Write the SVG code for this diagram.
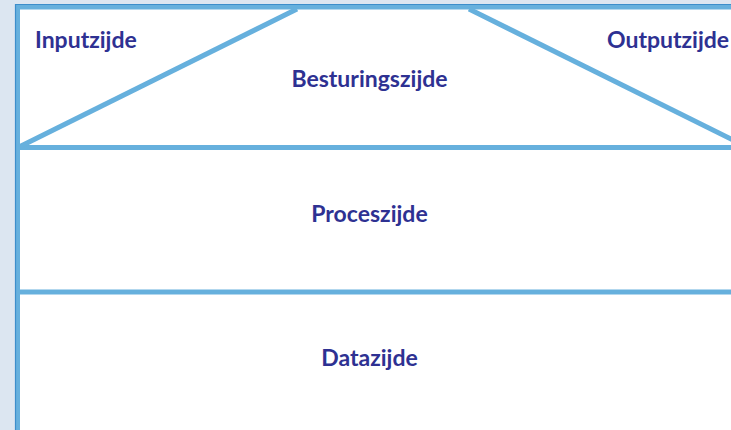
<svg xmlns="http://www.w3.org/2000/svg" width="731" height="430" viewBox="0 0 731 430">
<style>
.lbl{font-family:Lato,"Liberation Sans",sans-serif;font-weight:bold;font-size:23px;fill:#2e3192}
.ln{stroke:#66b0dd;stroke-width:5;fill:none}
</style>
<rect x="0" y="0" width="731" height="430" fill="#dce6f1"/>
<g id="frame">
<rect x="17.5" y="7" width="730" height="440" fill="#ffffff" stroke="#66b0dd" stroke-width="5"/>
<path d="M15.5 430 V4.5 H731" fill="none" stroke="#3d8ecb" stroke-width="1.2"/>
</g>
<g id="connectors">
<line class="ln" x1="19" y1="147.5" x2="731" y2="147.5"/>
<line class="ln" x1="19" y1="292" x2="731" y2="292"/>
<line class="ln" x1="19" y1="147" x2="297" y2="9"/>
<line class="ln" x1="469" y1="9" x2="745" y2="146"/>
</g>
<g id="inputzijde"><text class="lbl" x="35" y="48">Inputzijde</text></g>
<g id="besturingszijde"><text class="lbl" x="369.5" y="87" text-anchor="middle">Besturingszijde</text></g>
<g id="outputzijde"><text class="lbl" x="607" y="48">Outputzijde</text></g>
<g id="proceszijde"><text class="lbl" x="369.5" y="222" text-anchor="middle">Proceszijde</text></g>
<g id="datazijde"><text class="lbl" x="369.5" y="366" text-anchor="middle">Datazijde</text></g>
</svg>
